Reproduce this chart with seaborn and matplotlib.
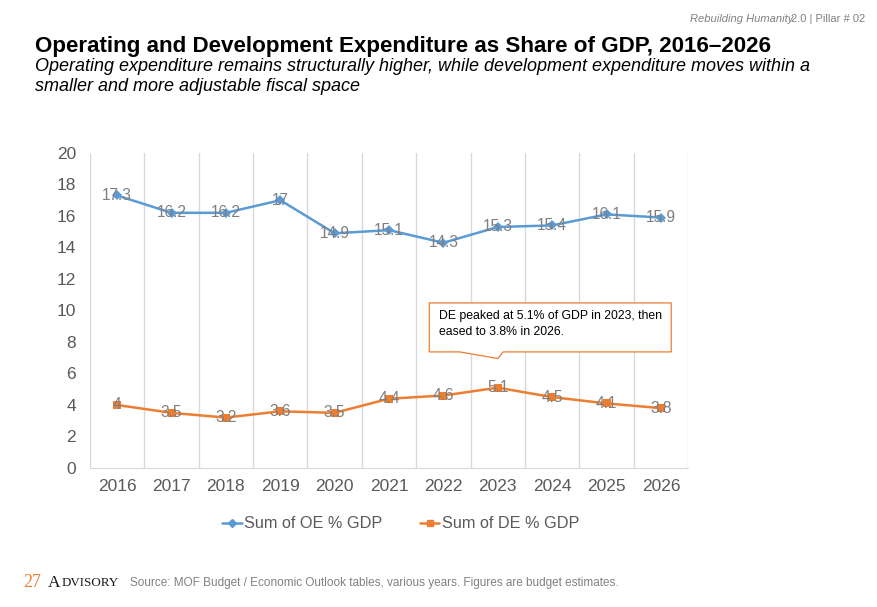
import pandas as pd
import seaborn as sns
import matplotlib.pyplot as plt
from matplotlib.patches import Polygon

years = [2016, 2017, 2018, 2019, 2020, 2021, 2022, 2023, 2024, 2025, 2026]
oe_gdp = [17.3, 16.2, 16.2, 17.0, 14.9, 15.1, 14.3, 15.3, 15.4, 16.1, 15.9]
de_gdp = [4.0, 3.5, 3.2, 3.6, 3.5, 4.4, 4.6, 5.1, 4.5, 4.1, 3.8]
series_names = ["Sum of OE % GDP", "Sum of DE % GDP"]
y_ticks = list(range(0, 21, 2))

df = pd.concat([
    pd.DataFrame({"year": years, "value": oe_gdp, "series": series_names[0]}),
    pd.DataFrame({"year": years, "value": de_gdp, "series": series_names[1]}),
])

sns.set_style("white")
plt.rcParams["font.family"] = ["Liberation Sans", "DejaVu Sans"]

blue = "#5B9BD5"
orange = "#ED7D31"
gray_txt = "#595959"

fig = plt.figure(figsize=(8.77, 6.07), dpi=100)
ax = fig.add_axes([0.1026, 0.229, 0.682, 0.519])

sns.lineplot(data=df, x="year", y="value", hue="series", style="series",
             palette={series_names[0]: blue, series_names[1]: orange},
             markers={series_names[0]: "D", series_names[1]: "s"},
             dashes=False, markersize=5.5, linewidth=1.8, markeredgewidth=0,
             ax=ax, legend=False)

# data labels centred on points
for vals in (oe_gdp, de_gdp):
    for x, v in zip(years, vals):
        ax.text(x, v, f"{v:g}", ha="center", va="center", fontsize=11.2,
                color="#7f7f7f", zorder=5)

ax.set_xlim(years[0] - 0.5, years[-1] + 0.5)
ax.set_ylim(0, 20)
ax.set_yticks(y_ticks)
ax.set_xticks(years)
ax.set_xticklabels([str(y) for y in years])
ax.set_xticks([y - 0.5 for y in years] + [years[-1] + 0.5], minor=True)
ax.grid(True, which="minor", axis="x", color="#d9d9d9", linewidth=1)
ax.grid(False, which="major")
ax.tick_params(axis="both", which="both", length=0, labelsize=12.5,
               labelcolor=gray_txt)
ax.tick_params(axis="x", pad=8)
ax.tick_params(axis="y", pad=10)
for s in ["top", "right", "left"]:
    ax.spines[s].set_visible(False)
ax.spines["bottom"].set_color("#d9d9d9")
ax.set_xlabel("")
ax.set_ylabel("")

# legend
handles = [
    plt.Line2D([], [], color=blue, marker="D", markersize=4, linewidth=1.8),
    plt.Line2D([], [], color=orange, marker="s", markersize=5, linewidth=1.8),
]
fig.legend(handles, series_names, loc="center", bbox_to_anchor=(0.457, 0.137),
           ncol=2, frameon=False, fontsize=11.7, labelcolor=gray_txt,
           handlelength=1.2, handletextpad=0.15, columnspacing=2.3)

# callout
box = Polygon([(2021.74, 10.48), (2026.19, 10.48), (2026.19, 7.37),
               (2023.1, 7.37), (2023.0, 6.95), (2022.3, 7.37),
               (2021.74, 7.37)],
              closed=True, facecolor="white", edgecolor=orange, linewidth=0.9,
              zorder=6, clip_on=False)
ax.add_patch(box)
ax.text(2021.92, 10.0, "DE peaked at 5.1% of GDP in 2023, then\neased to 3.8% in 2026.",
        ha="left", va="top", fontsize=8.8, color="black", linespacing=1.4, zorder=7)

# header / titles
fig.text(0.905, 0.968, "Rebuilding Humanity", ha="right", va="center",
         fontsize=8, style="italic", color="#808080")
fig.text(0.9025, 0.968, "2.0 | Pillar # 02", ha="left", va="center",
         fontsize=8, color="#808080")
fig.text(0.040, 0.924, "Operating and Development Expenditure as Share of GDP, 2016\u20132026",
         ha="left", va="center", fontsize=16.1, fontweight="bold", color="black")
fig.text(0.040, 0.890, "Operating expenditure remains structurally higher, while development expenditure moves within a",
         ha="left", va="center", fontsize=13, style="italic", color="black")
fig.text(0.040, 0.857, "smaller and more adjustable fiscal space",
         ha="left", va="center", fontsize=13, style="italic", color="black")

# footer
fig.text(0.027, 0.040, "27", ha="left", va="center", fontsize=13,
         family="Liberation Serif", color=orange)
fig.text(0.055, 0.040, "A", ha="left", va="center", fontsize=12.5,
         family="Liberation Serif", color="#1a1a1a")
fig.text(0.0705, 0.040, "DVISORY", ha="left", va="center", fontsize=9.4,
         family="Liberation Serif", color="#1a1a1a")
fig.text(0.148, 0.040, "Source: MOF Budget / Economic Outlook tables, various years. Figures are budget estimates.",
         ha="left", va="center", fontsize=8.5, color="#808080")

fig.savefig("out.png", dpi=100)
